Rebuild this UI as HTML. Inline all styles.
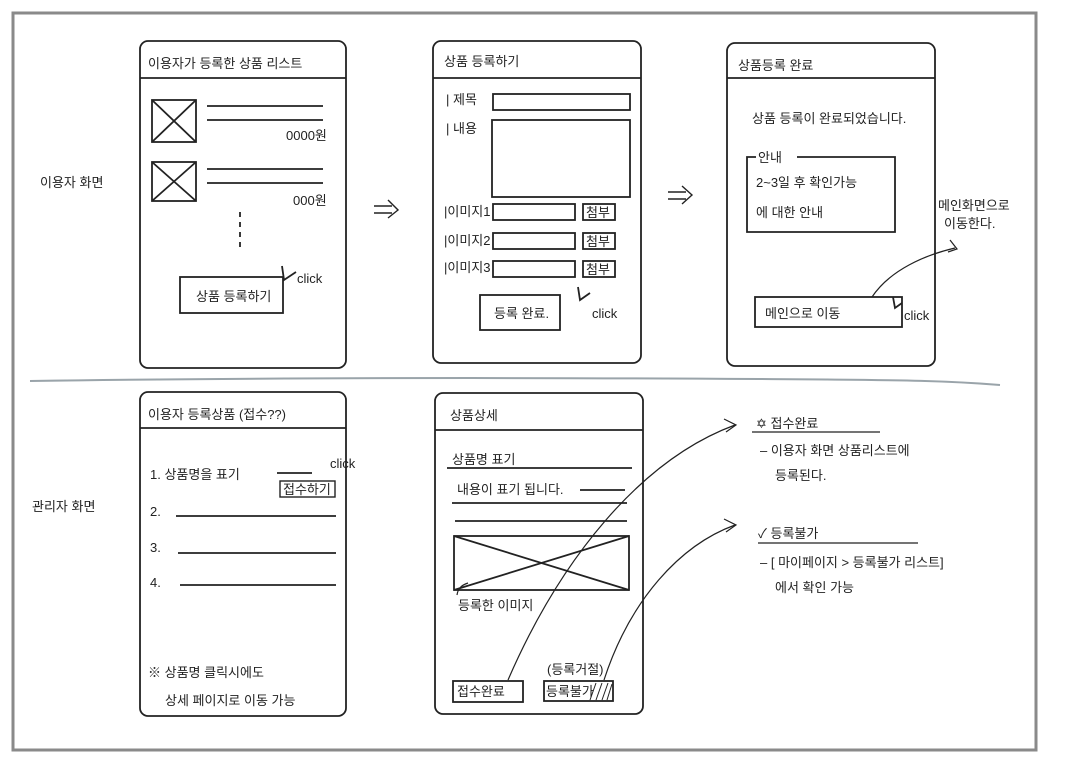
<!DOCTYPE html>
<html><head><meta charset="utf-8"><style>
html,body{margin:0;padding:0;background:#fff;}
svg{display:block;}
text{font-family:"Liberation Sans","Noto Sans CJK KR","NanumGothic",sans-serif;fill:#222;font-size:13px;}
</style></head><body>
<svg width="1065" height="764" viewBox="0 0 1065 764" xmlns="http://www.w3.org/2000/svg">
<rect width="1065" height="764" fill="#fff"/>
<rect x="13" y="13" width="1023" height="737" fill="none" stroke="#8a8a8a" stroke-width="3"/>
<g fill="none" stroke="#222" stroke-width="1.8">
<!-- P1 -->
<rect x="140" y="41" width="206" height="327" rx="8"/>
<line x1="140" y1="78" x2="346" y2="78"/>
<rect x="152" y="100" width="44" height="42"/><path d="M152 100L196 142M196 100L152 142"/>
<rect x="152" y="162" width="44" height="39"/><path d="M152 162L196 201M196 162L152 201"/>
<path d="M207 106H323M207 120H323M207 169H323M207 183H323"/>
<path d="M240 212V248" stroke-dasharray="5 5"/>
<rect x="180" y="277" width="103" height="36"/>
<path d="M282 266L284 280L296 272"/>
<!-- P2 -->
<rect x="433" y="41" width="208" height="322" rx="8"/>
<line x1="433" y1="78" x2="641" y2="78"/>
<rect x="493" y="94" width="137" height="16"/>
<rect x="492" y="120" width="138" height="77"/>
<rect x="493" y="204" width="82" height="16"/><rect x="583" y="204" width="32" height="16"/>
<rect x="493" y="233" width="82" height="16"/><rect x="583" y="233" width="32" height="16"/>
<rect x="493" y="261" width="82" height="16"/><rect x="583" y="261" width="32" height="16"/>
<rect x="480" y="295" width="80" height="35"/>
<path d="M578 287L580 300L590 293"/>
<!-- P3 -->
<rect x="727" y="43" width="208" height="323" rx="8"/>
<line x1="727" y1="78" x2="935" y2="78"/>
<path d="M756 157H747V232H895V157H797"/>
<rect x="755" y="297" width="147" height="30"/>
<path d="M893 297L895 308L902 303"/>
<path d="M872 297C890 270 925 255 955 248" stroke-width="1.2"/>
<path d="M950 240L957 249L948 252" stroke-width="1.2"/>
<!-- arrows => -->
<path d="M374 206H392M374 213H392M388 200L398 210L388 218" stroke-width="1.4"/>
<path d="M668 192H686M668 199H686M682 186L692 195L682 204" stroke-width="1.4"/>
<!-- P4 -->
<rect x="140" y="392" width="206" height="324" rx="8"/>
<line x1="140" y1="428" x2="346" y2="428"/>
<path d="M277 473H312"/>
<rect x="280" y="481" width="55" height="16" stroke-width="1.4"/>
<path d="M176 516H336M178 553H336M180 585H336"/>
<!-- P5 -->
<rect x="435" y="393" width="208" height="321" rx="8"/>
<line x1="435" y1="430" x2="643" y2="430"/>
<path d="M447 468H632M452 503H627M455 521H627M580 490H625"/>
<rect x="454" y="536" width="175" height="54"/><path d="M454 536L629 590M629 536L454 590"/>
<path d="M457 595C458 588 462 585 468 583" stroke-width="1.2"/>
<rect x="453" y="681" width="70" height="21"/>
<rect x="544" y="681" width="69" height="20"/>
<path d="M590 700L596 683M596 700L602 683M602 700L608 683M607 700L612 684" stroke-width="1"/>
<path d="M508 680C560 560 640 460 735 425" stroke-width="1.2"/>
<path d="M724 419L736 425L726 432" stroke-width="1.2"/>
<path d="M604 680C630 600 680 545 735 525" stroke-width="1.2"/>
<path d="M724 519L736 525L726 532" stroke-width="1.2"/>
<path d="M752 432H880M758 543H918" stroke-width="1.2"/>
</g>
<path d="M30 381C300 377 600 378 760 379S950 381 1000 385" fill="none" stroke="#9aa4aa" stroke-width="2"/>
<!-- texts -->
<text x="148" y="68">이용자가 등록한 상품 리스트</text>
<text x="286" y="140" font-size="12">0000원</text>
<text x="293" y="205" font-size="12">000원</text>
<text x="196" y="301">상품 등록하기</text>
<text x="297" y="283">click</text>
<text x="40" y="187">이용자 화면</text>
<text x="444" y="66">상품 등록하기</text>
<text x="446" y="104" font-size="12">| 제목</text>
<text x="446" y="133" font-size="12">| 내용</text>
<text x="444" y="216" font-size="11">|이미지1</text>
<text x="444" y="245" font-size="11">|이미지2</text>
<text x="444" y="272" font-size="11">|이미지3</text>
<text x="586" y="217" font-size="11">첨부</text>
<text x="586" y="246" font-size="11">첨부</text>
<text x="586" y="274" font-size="11">첨부</text>
<text x="494" y="318">등록 완료.</text>
<text x="592" y="318">click</text>
<text x="738" y="70">상품등록 완료</text>
<text x="752" y="123">상품 등록이 완료되었습니다.</text>
<text x="758" y="162" font-size="12">안내</text>
<text x="756" y="187">2~3일 후 확인가능</text>
<text x="756" y="217">에 대한 안내</text>
<text x="765" y="318">메인으로 이동</text>
<text x="904" y="320">click</text>
<text x="938" y="210" font-size="11">메인화면으로</text>
<text x="944" y="228" font-size="11">이동한다.</text>
<text x="148" y="419">이용자 등록상품 (접수??)</text>
<text x="150" y="479">1. 상품명을 표기</text>
<text x="283" y="494" font-size="10">접수하기</text>
<text x="330" y="468" font-size="12">click</text>
<text x="150" y="516">2.</text>
<text x="150" y="552">3.</text>
<text x="150" y="587">4.</text>
<text x="148" y="677">※ 상품명 클릭시에도</text>
<text x="165" y="705">상세 페이지로 이동 가능</text>
<text x="32" y="511">관리자 화면</text>
<text x="450" y="420">상품상세</text>
<text x="452" y="464">상품명 표기</text>
<text x="457" y="494">내용이 표기 됩니다.</text>
<text x="458" y="610" font-size="12">등록한 이미지</text>
<text x="457" y="696" font-size="11">접수완료</text>
<text x="546" y="696" font-size="11">등록불가</text>
<text x="547" y="674" font-size="11">(등록거절)</text>
<text x="756" y="428">✡ 접수완료</text>
<text x="760" y="455">– 이용자 화면   상품리스트에</text>
<text x="775" y="480">등록된다.</text>
<text x="758" y="538">✓ 등록불가</text>
<text x="760" y="567">– [ 마이페이지 &gt; 등록불가 리스트]</text>
<text x="775" y="592">에서 확인 가능</text>
</svg>
</body></html>
